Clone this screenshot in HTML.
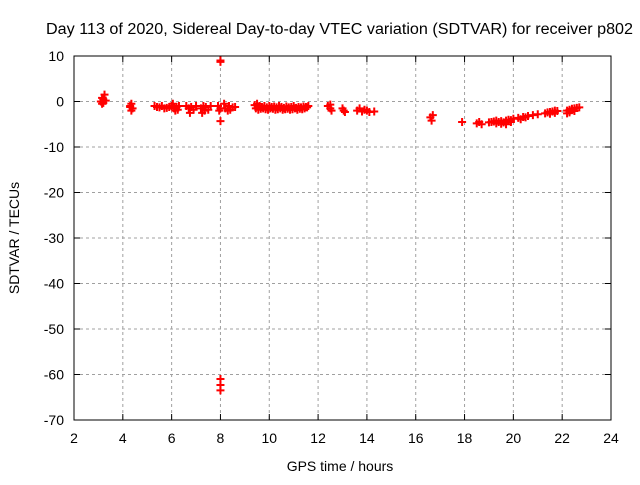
<!DOCTYPE html>
<html><head><meta charset="utf-8"><style>
body{margin:0;background:#fff;}
svg text{font-family:"Liberation Sans",sans-serif;font-size:14px;fill:#000;}
</style></head><body>
<svg id="chart" width="640" height="480" xmlns="http://www.w3.org/2000/svg">
<rect width="640" height="480" fill="#fff"/>
<g id="grid"></g>
<g id="axes"></g>
<g id="points"></g>
<text x="46" y="34" textLength="587" lengthAdjust="spacingAndGlyphs" style="font-size:15.5px">Day 113 of 2020, Sidereal Day-to-day VTEC variation (SDTVAR) for receiver p802</text>
<text x="340" y="471" text-anchor="middle">GPS time / hours</text>
<text x="0" y="0" text-anchor="middle" transform="translate(19,238) rotate(-90)">SDTVAR / TECUs</text>
</svg>
<script>
const xTicks=[2,4,6,8,10,12,14,16,18,20,22,24];
const yTicks=[10,0,-10,-20,-30,-40,-50,-60,-70];
const times=[3.1,3.15,3.2,3.25,3.2,3.3,3.15,
4.3,4.35,4.4,4.35,4.3,
5.3,5.4,5.5,5.6,5.7,5.8,5.9,
6.0,6.05,6.1,6.15,6.2,6.25,6.3,
6.6,6.7,6.75,6.8,6.9,7.0,
7.2,7.25,7.3,7.35,7.4,7.5,7.6,
8.0,8.0,8.0,8.0,8.0,8.0,7.9,7.95,8.0,
8.15,8.2,8.3,8.35,8.4,8.5,8.6,
9.4,9.5,9.6,9.7,9.8,9.9,10.0,10.1,10.2,10.3,10.4,10.5,10.6,10.7,10.8,10.9,11.0,11.1,11.2,11.3,11.4,11.5,11.6,
9.45,9.55,9.65,9.75,9.85,9.95,10.05,10.15,10.25,10.35,10.45,10.55,10.65,10.75,10.85,10.95,11.05,11.15,11.25,11.35,11.45,11.55,
12.4,12.5,12.5,12.55,
13.0,13.05,13.1,
13.6,13.7,13.8,13.9,14.0,14.1,14.3,
16.6,16.65,16.7,
17.9,
18.5,18.6,18.7,
19.0,19.1,19.2,19.3,19.4,19.5,19.6,19.7,19.8,19.9,19.3,19.5,19.7,19.9,
20.0,20.2,20.4,20.6,20.8,21.0,20.3,20.5,
21.3,21.4,21.5,21.6,21.7,21.8,21.5,21.7,
22.2,22.3,22.4,22.5,22.6,22.7,22.3,22.5,22.2,22.4];
const values=[0,-0.5,0.5,1.5,-0.3,0.2,0.8,
-1,-0.5,-1.5,-2,-1.2,
-1,-1.2,-1.3,-1,-1.5,-1.4,-1.2,
-1,-0.5,-1.5,-2,-1.2,-1.8,-1,
-1,-1.5,-2.5,-1.2,-1.8,-1,
-1.5,-2.5,-1,-2,-1.2,-1.8,-1,
9,8.7,-4.3,-61,-62.3,-63.5,-1,-2,-1.5,
-0.5,-1.5,-2,-1,-1.8,-1.3,-1.2,
-0.8,-0.5,-1,-1.2,-1,-1.3,-1,-1.2,-1.1,-1.3,-1,-1.2,-1.4,-1.1,-1.3,-1.2,-1,-1.4,-1.2,-1.3,-1.1,-1.2,-1,
-1.5,-1.8,-1.6,-1.5,-1.7,-1.8,-1.5,-1.6,-1.8,-1.7,-1.5,-1.8,-1.7,-1.6,-1.8,-1.7,-1.5,-1.8,-1.6,-1.7,-1.5,-1.3,
-1,-1.5,-0.7,-2,
-1.5,-2,-2.3,
-2,-1.5,-2.2,-1.8,-2,-2.3,-2.2,
-3.5,-4.2,-3,
-4.5,
-4.8,-4.5,-5,
-4.6,-4.5,-4.4,-4.8,-4.5,-4.3,-4.6,-4.2,-4,-4.1,-4.2,-4.9,-5,-4.5,
-3.8,-3.6,-3.4,-3.2,-3,-2.8,-3.9,-3.5,
-2.6,-2.4,-2.3,-2.2,-2,-2.1,-2.7,-2.5,
-2,-1.8,-1.6,-1.5,-1.4,-1.3,-2.4,-2.1,-2.6,-1.9];
const L=74,R=611,T=56,B=420;
const xs=h=>L+(h-2)*(R-L)/22;
const ys=v=>T+(10-v)*(B-T)/80;
const NS='http://www.w3.org/2000/svg';
const grid=document.getElementById('grid'),axes=document.getElementById('axes'),pts=document.getElementById('points');
function mk(tag,attrs,parent){const e=document.createElementNS(NS,tag);for(const k in attrs)e.setAttribute(k,attrs[k]);parent.appendChild(e);return e;}
xTicks.forEach(t=>{const x=xs(t);
 if(t>2&&t<24){const g=mk('line',{x1:x,x2:x,y1:T,y2:B,stroke:'#a0a0a0','stroke-dasharray':'3,3'},grid);
 
 }
 mk('line',{x1:x,x2:x,y1:B,y2:B-6,stroke:'#000'},axes);
 mk('line',{x1:x,x2:x,y1:T,y2:T+6,stroke:'#000'},axes);
 const tx=mk('text',{x:x,y:B+23,'text-anchor':'middle'},axes);tx.textContent=t;
 
 
});
yTicks.forEach(t=>{const y=ys(t);
 if(t<10&&t>-70){const g=mk('line',{x1:L,x2:R,y1:y,y2:y,stroke:'#a0a0a0','stroke-dasharray':'3,3'},grid);
 
 }
 mk('line',{x1:L,x2:L+6,y1:y,y2:y,stroke:'#000'},axes);
 mk('line',{x1:R,x2:R-6,y1:y,y2:y,stroke:'#000'},axes);
 const tx=mk('text',{x:L-10,y:y+5,'text-anchor':'end'},axes);tx.textContent=t;
 
 
});
const fr=mk('rect',{x:L,y:T,width:R-L,height:B-T,fill:'none',stroke:'#000'},axes);


times.forEach((h,i)=>{const x=xs(h),y=ys(values[i]);
 const p=mk('path',{d:`M${x-4},${y}H${x+4}M${x},${y-4}V${y+4}`,stroke:'#f00','stroke-width':2},pts);
 
 
});
</script>
</body></html>
